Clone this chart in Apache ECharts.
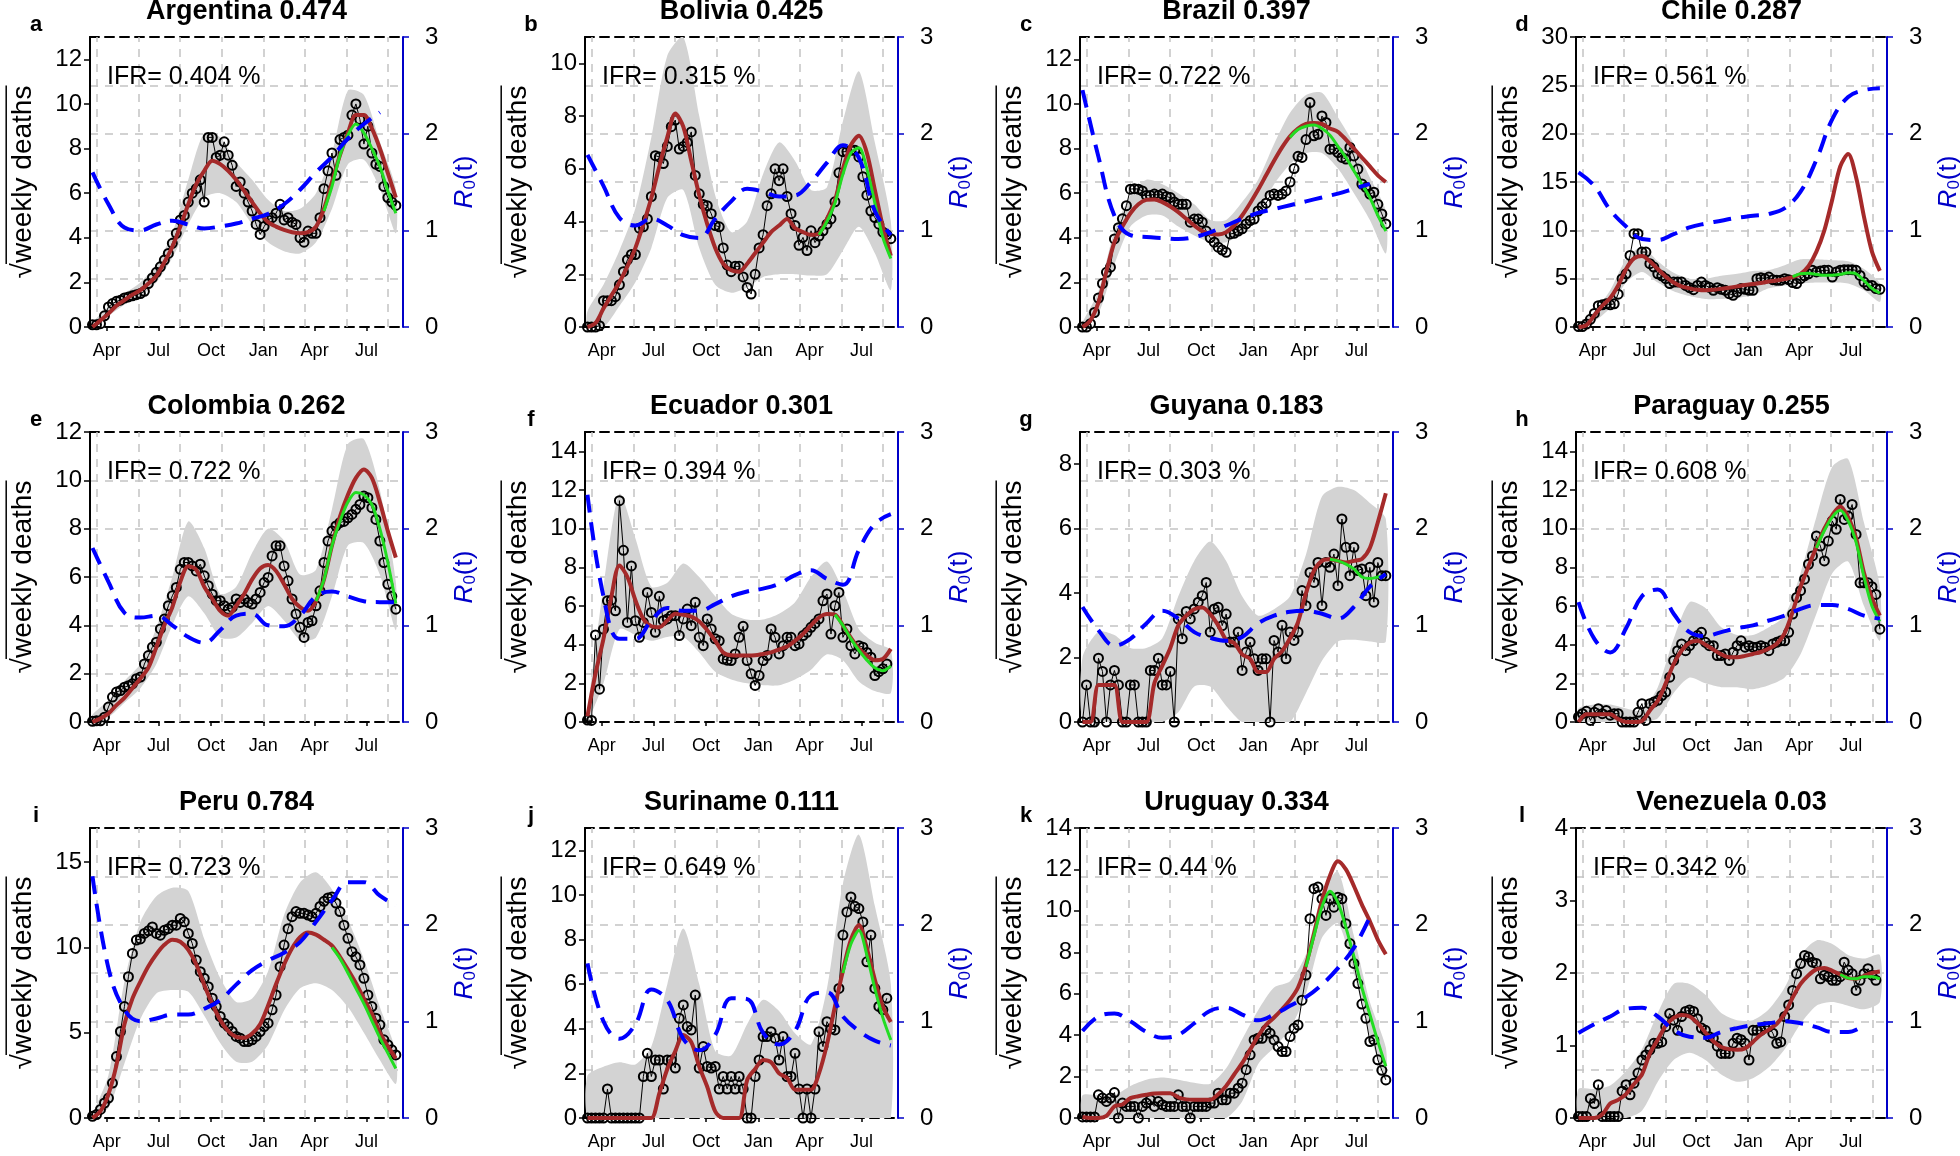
<!DOCTYPE html>
<html><head><meta charset="utf-8">
<script src="https://cdn.jsdelivr.net/npm/echarts@6/dist/echarts.min.js"></script>
<style>html,body{margin:0;padding:0;background:#fff}#c{width:1960px;height:1156px}</style>
</head><body><div id="c"></div>
<script>
// ---------- shared axis data ----------
const startYear = 2020.18;           // first weekly observation (decimal year)
const weekStep = 7 / 365.25;
const xMin = 2020.168, xMax = 2021.671;
const gridYears = [2020.2, 2020.4, 2020.6, 2020.8, 2021.0, 2021.2, 2021.4, 2021.6];
const monthTicks = [2020.2486, 2020.4973, 2020.7486, 2021.0, 2021.2466, 2021.4959];
const monthLabels = ['Apr', 'Jul', 'Oct', 'Jan', 'Apr', 'Jul'];

const panelTitles = ['Argentina 0.474','Bolivia 0.425','Brazil 0.397','Chile 0.287','Colombia 0.262','Ecuador 0.301','Guyana 0.183','Paraguay 0.255','Peru 0.784','Suriname 0.111','Uruguay 0.334','Venezuela 0.03'];
const panelLetters = ['a','b','c','d','e','f','g','h','i','j','k','l'];
const ifrTexts = ['IFR= 0.404 %','IFR= 0.315 %','IFR= 0.722 %','IFR= 0.561 %','IFR= 0.722 %','IFR= 0.394 %','IFR= 0.303 %','IFR= 0.608 %','IFR= 0.723 %','IFR= 0.649 %','IFR= 0.44 %','IFR= 0.342 %'];
const yMaxes = [13, 11, 13, 30, 12, 15, 9, 15, 17, 13, 14, 4];
const yIntervals = [2, 2, 2, 5, 2, 2, 2, 2, 5, 2, 2, 1];
const greenStarts = [58, 58, 52, 54, 56, 62, 62, 60, 60, 64, 56, 66];

// ---------- weekly sqrt deaths (observed, 77 weeks) ----------
const argObs = [0.1,0.1,0.15,0.5,0.9,1.05,1.15,1.2,1.3,1.35,1.4,1.45,1.5,1.6,1.95,2.2,2.45,2.7,3.0,3.3,3.75,4.2,4.8,5.0,5.6,6.0,6.2,6.6,5.6,8.5,8.5,7.6,7.7,8.3,7.7,7.25,6.3,6.5,6.0,5.6,5.2,4.6,4.15,4.5,4.8,4.9,5.1,5.5,4.8,4.9,4.7,4.6,4.0,3.8,4.3,4.2,4.2,4.9,6.2,7.0,7.8,6.8,8.4,8.5,8.6,9.5,10.0,9.3,8.2,9.0,7.8,7.3,7.2,6.3,5.8,5.6,5.45];
const bolObs = [0,0,0,0.05,1.0,1.0,1.0,1.15,1.6,2.1,2.55,2.75,2.75,3.75,3.8,4.1,4.95,6.5,6.45,6.2,6.85,7.6,7.85,6.75,6.85,7.0,7.4,5.75,5.05,4.65,4.6,4.3,3.85,3.8,3.0,2.35,2.1,2.3,2.3,1.9,1.5,1.25,2.0,3.0,3.5,4.6,5.05,6.0,5.55,6.0,4.95,4.3,3.85,3.1,3.4,2.9,3.65,3.2,3.45,3.65,3.9,4.1,4.75,5.85,6.65,6.65,6.7,6.7,6.45,5.7,5.0,4.4,4.15,3.9,3.6,3.5,3.35];
const braObs = [0,0,0.15,0.65,1.3,1.95,2.45,2.68,3.95,4.45,4.85,5.44,6.18,6.2,6.18,6.1,5.9,5.9,5.96,5.9,5.96,5.85,5.8,5.6,5.5,5.5,5.5,4.7,4.84,4.84,4.7,4.3,4.0,3.8,3.58,3.45,3.35,4.17,4.2,4.3,4.4,4.62,4.77,4.84,5.2,5.4,5.55,5.9,5.96,5.9,5.96,6.1,6.5,7.1,7.65,7.6,8.4,10.06,8.57,8.64,9.46,9.17,7.97,7.97,7.82,7.6,7.53,8.05,7.67,7.08,6.41,6.26,5.96,6.04,5.5,5.07,4.62];
const chiObs = [0.05,0.05,0.3,0.8,1.4,2.2,2.3,2.4,2.3,2.4,3.4,5.0,5.5,7.4,9.65,9.65,7.75,7.75,6.55,6.2,5.5,5.3,5.0,4.5,4.65,4.65,4.65,4.3,4.07,3.86,4.3,4.65,4.3,4.1,3.8,4.07,3.9,3.8,3.45,3.28,3.6,3.97,3.9,3.8,3.8,5.0,5.1,5.0,5.17,4.9,4.83,4.83,5.0,4.9,4.6,4.5,5.0,5.3,5.5,5.86,5.7,5.8,5.86,5.86,5.17,5.7,5.86,5.93,5.93,5.93,5.86,5.34,4.65,4.3,4.3,3.97,3.9];
const colObs = [0.03,0.05,0.05,0.2,0.62,1.03,1.24,1.3,1.44,1.5,1.58,1.79,1.86,2.4,2.75,3.1,3.3,3.85,4.26,4.81,5.22,5.57,6.32,6.6,6.6,6.46,6.25,6.53,6.05,5.64,5.29,5.02,5.02,4.81,4.67,4.74,5.09,4.95,5.09,4.95,4.88,5.09,5.36,5.77,5.98,6.87,7.29,7.29,6.46,5.84,5.09,4.47,3.92,3.5,4.12,4.19,4.81,5.43,6.6,7.49,7.9,8.11,8.25,8.3,8.45,8.59,8.8,9.0,9.35,9.28,8.87,8.38,7.49,6.6,5.7,5.2,4.67];
const ecuObs = [0.1,0.08,4.5,1.7,4.8,6.27,6.3,5.75,11.45,8.88,5.15,8.07,5.24,4.38,5.15,6.7,5.67,4.64,6.5,5.24,5.33,5.5,5.5,4.47,5.33,5.84,4.98,6.19,4.38,3.95,5.33,4.81,4.3,4.2,3.26,3.2,3.18,3.52,4.38,4.95,3.18,2.49,1.89,2.4,3.18,3.44,4.81,4.38,3.52,3.95,4.38,4.38,3.95,4.04,4.47,4.64,4.9,5.1,5.33,6.27,6.62,4.55,6.01,6.7,4.38,4.81,3.95,3.52,3.95,3.87,3.6,3.35,2.4,2.6,2.75,3.0,null];
const guyObs = [0,1.15,0,0,1.98,1.57,0,1.15,1.6,1.15,0,0,1.15,1.15,0,0,0,1.6,1.6,1.98,1.15,1.15,1.57,0,3.2,2.58,3.43,3.2,3.51,3.72,3.92,4.33,2.79,3.51,3.56,2.99,3.35,2.48,2.48,2.79,1.6,2.17,2.48,1.96,1.6,1.96,1.96,0,2.53,2.17,3.0,1.96,2.79,2.53,2.79,4.08,3.61,4.64,4.33,4.95,3.61,4.95,4.8,5.21,4.23,6.3,5.42,4.54,5.42,4.7,4.75,3.92,4.8,3.72,4.95,4.54,4.54];
const parObs = [0.26,0.43,0.55,0.08,0.5,0.69,0.43,0.6,0.35,0.43,0.43,0,0,0,0,0.5,0.95,0.08,0.95,1.03,1.12,1.37,1.55,2.32,3.18,3.69,4.04,3.69,3.95,4.2,4.47,4.64,4.12,3.95,3.95,3.44,3.44,3.52,3.18,3.61,3.95,4.2,3.87,3.95,3.87,3.87,3.95,3.87,3.69,4.04,4.12,4.2,4.2,4.64,5.58,6.44,6.79,7.39,8.16,8.59,9.62,9.1,8.33,9.36,10.4,9.97,11.51,10.48,10.65,11.25,9.7,7.2,7.2,7.2,7.0,6.6,4.8];
const perObs = [0.1,0.2,0.5,0.88,1.17,2.05,3.6,5.07,6.53,8.28,9.65,10.43,10.5,10.82,10.97,11.2,10.82,10.72,11.0,11.1,11.3,11.3,11.7,11.5,10.82,10.23,9.26,8.58,8.19,7.7,7.02,6.53,5.95,5.56,5.36,5.07,4.78,4.68,4.48,4.48,4.58,4.78,5.07,5.36,5.56,6.34,7.21,8.87,10.14,11.1,11.8,12.1,12.0,12.0,11.9,11.8,12.0,12.4,12.7,12.9,12.96,12.6,12.1,11.3,10.53,9.75,9.45,8.97,8.19,7.21,6.53,5.85,5.46,4.58,4.29,4.0,3.7];
const surObs = [0,0,0,0,0,1.3,0,0,0,0,0,0,0,0,1.86,2.9,1.86,2.6,2.6,1.3,2.6,2.6,2.24,4.47,5.07,4.1,3.95,5.51,2.24,3.2,2.31,2.24,2.31,1.3,1.86,1.3,1.86,1.3,1.86,1.3,0,0,1.86,2.6,3.65,3.65,3.87,3.58,2.6,3.65,1.86,1.86,2.9,1.3,0,1.3,0,1.3,3.87,3.2,4.32,4.0,3.95,5.81,8.2,9.24,9.91,9.49,9.39,8.79,7.0,8.2,5.81,5.0,4.85,5.37,null];
const uruObs = [0.05,0.05,0.05,0.05,1.12,0.96,0.8,0.96,1.23,0,0.72,0.56,0.56,0.56,0,0.56,0.72,0.88,0.56,0.8,0.64,0.56,0.56,0.56,1.12,0.56,0.56,0,0.56,0.56,0.56,0.56,0.72,0.72,1.2,0.88,0.88,1.2,1.2,1.44,1.68,2.33,3.05,3.77,3.85,3.85,4.25,4.09,3.77,3.45,3.21,3.21,3.93,4.33,4.49,5.69,6.9,9.62,11.07,11.15,10.58,9.78,10.58,10.18,10.66,10.58,9.38,8.42,7.46,6.49,5.5,4.81,3.69,3.77,2.81,2.3,1.84];
const venObs = [0.02,0.02,0.02,0.27,0.2,0.46,0.02,0.02,0.02,0.02,0.02,0.37,0.46,0.32,0.48,0.62,0.8,0.87,0.94,1.03,1.03,1.05,1.26,1.44,1.35,1.21,1.4,1.47,1.49,1.47,1.37,1.24,1.21,1.12,1.1,0.99,0.89,0.89,0.89,1.03,1.1,1.08,1.03,0.8,1.21,1.21,1.21,1.26,1.26,1.17,1.03,1.05,1.4,1.56,1.76,1.99,2.13,2.24,2.22,2.15,2.13,1.92,1.97,1.95,1.9,1.9,1.95,2.15,2.04,1.99,1.76,1.9,1.99,2.06,1.97,1.9,null];

// ---------- red fitted curve (every 2 weeks, weeks 0..76) ----------
const argRed = [0,0.3,0.6,0.95,1.2,1.45,1.65,1.95,2.3,2.9,3.6,4.5,5.5,6.4,7.0,7.45,7.3,7.0,6.6,6.1,5.6,5.1,4.7,4.5,4.35,4.25,4.2,4.25,4.5,5.3,6.5,7.7,8.7,9.5,9.5,8.9,8.0,6.9,5.8];
const bolRed = [0,0.15,0.7,1.2,1.7,2.3,3.0,3.9,4.9,6.1,7.2,8.1,7.6,6.3,5.0,3.9,3.0,2.4,2.15,2.1,2.4,2.8,3.2,3.6,3.85,4.1,3.75,3.6,3.5,3.55,4.1,4.8,6.0,6.9,7.25,6.6,5.2,3.8,2.7];
const braRed = [0,0.3,1.1,2.5,3.8,4.5,5.1,5.5,5.7,5.72,5.6,5.4,5.15,4.85,4.55,4.3,4.18,4.15,4.25,4.55,5.0,5.55,6.15,6.8,7.45,8.05,8.55,8.9,9.1,9.15,9.1,8.9,8.75,8.4,8.0,7.6,7.2,6.8,6.5];
const chiRed = [0,0.2,1.2,2.2,3.0,4.3,6.0,7.1,7.35,6.8,6.0,5.2,4.6,4.2,4.0,3.85,3.8,3.85,3.95,4.05,4.2,4.35,4.45,4.55,4.7,4.8,4.95,5.15,5.5,6.3,7.8,10.0,13.2,16.6,17.9,15.5,11.4,7.8,5.8];
const colRed = [0,0.15,0.35,0.7,1.0,1.4,1.8,2.25,3.1,4.0,4.75,5.8,6.45,6.3,5.6,5.1,4.6,4.4,4.8,5.3,5.9,6.35,6.5,6.25,5.7,5.1,4.75,4.6,5.0,5.9,7.3,8.5,9.4,10.1,10.45,10.1,9.1,7.9,6.8];
const ecuRed = [0.3,2.5,4.3,6.5,8.1,7.5,6.3,5.33,4.95,4.9,5.25,5.6,5.55,5.45,5.2,4.75,4.2,3.6,3.45,3.44,3.44,3.45,3.52,3.6,3.75,3.9,4.2,4.55,5.0,5.4,5.58,5.55,5.0,4.35,3.8,3.44,3.2,3.26,3.78];
const guyRed = [0,0,1.15,1.15,1.15,0,0,0,0,1.2,1.75,2.3,3.0,3.3,3.5,3.55,3.35,3.0,2.55,2.45,2.1,1.96,1.55,1.55,1.96,2.2,2.6,3.1,4.0,4.7,5.0,5.05,5.0,4.95,5.0,5.06,5.4,6.2,7.1];
const parRed = [0,0.4,0.4,0.4,0.4,0.15,0,0,0.05,0.6,1.1,2.0,3.0,3.7,4.1,4.2,4.0,3.75,3.5,3.35,3.35,3.42,3.52,3.62,3.8,4.05,4.6,5.7,7.0,8.05,9.05,10.0,10.7,11.15,10.6,9.5,7.7,6.4,5.5];
const perRed = [0,0.4,1.4,3.1,5.5,7.0,8.0,8.9,9.6,10.15,10.45,10.33,9.85,9.0,7.8,6.7,5.75,5.1,4.75,4.7,4.95,5.5,6.6,7.85,9.0,9.95,10.6,10.88,10.75,10.45,10.1,9.45,8.7,7.9,7.0,6.1,5.0,4.2,3.5];
const surRed = [0,0,0,0,0,0,0,0,0,1.1,2.2,3.0,3.72,3.4,2.3,1.4,0.3,0,0,0,1.7,2.2,2.6,2.5,2.0,1.8,1.27,1.27,1.27,2.0,3.3,5.0,6.6,8.0,8.65,7.6,6.2,5.0,4.3];
const uruRed = [0.05,0,0,0.1,0.56,0.65,0.96,1.05,1.12,1.18,1.2,1.2,1.0,0.9,0.88,0.88,0.88,1.15,1.55,2.1,2.65,3.3,3.95,4.5,4.85,5.25,5.7,6.3,7.4,8.9,10.5,11.7,12.4,12.0,11.2,10.3,9.5,8.6,7.9];
const venRed = [0,0,0,0.05,0.2,0.25,0.33,0.47,0.6,0.89,1.08,1.27,1.38,1.42,1.4,1.31,1.18,1.06,0.98,0.95,0.94,0.96,1.05,1.15,1.22,1.3,1.44,1.66,1.85,1.97,2.05,2.07,2.03,1.98,1.93,1.92,1.96,2.0,2.02];

// ---------- green curve (every 2 weeks from greenStarts[i]) ----------
const argGreen = [5.2,6.3,7.7,8.6,9.1,8.7,8.0,7.2,6.1,5.1];
const bolGreen = [3.5,4.0,4.7,5.8,6.6,6.8,6.0,4.7,3.4,2.6];
const braGreen = [8.5,8.85,9.0,9.05,8.9,8.6,8.1,7.6,7.0,6.4,5.8,5.0,4.3];
const chiGreen = [5.2,5.5,5.55,5.45,5.35,5.35,5.45,5.6,5.5,4.8,4.0,3.5];
const colGreen = [5.0,5.9,7.3,8.3,9.1,9.5,9.4,9.0,8.0,6.6,4.9];
const ecuGreen = [5.55,5.0,4.3,3.7,3.2,2.8,2.65,2.9];
const guyGreen = [5.05,5.0,4.9,4.75,4.5,4.45,4.5,4.55];
const parGreen = [9.0,9.9,10.6,10.95,10.4,9.3,7.5,6.0,5.2];
const perGreen = [10.0,9.35,8.5,7.6,6.7,5.7,4.7,3.8,2.9];
const surGreen = [6.5,7.8,8.4,7.3,5.8,4.5,3.5];
const uruGreen = [7.3,8.8,10.2,10.95,10.4,9.2,7.8,6.3,5.0,3.7,2.5];
const venGreen = [1.98,1.93,1.92,1.95,1.95,1.92];

// ---------- grey band, lower / upper (every 4 weeks, weeks 0..76) ----------
const argLo = [0,0.5,1.0,1.4,2.0,3.1,4.6,5.8,6.0,5.6,4.6,3.8,3.4,3.3,3.8,5.3,7.3,7.5,6.2,4.2];
const argHi = [0.2,0.9,1.5,2.0,2.8,4.2,6.6,8.7,8.5,7.4,6.6,5.7,5.2,5.3,6.0,7.8,10.6,10.4,8.3,6.2];
const bolLo = [0,0,0.8,1.7,3.0,4.9,5.2,3.0,1.6,1.3,1.5,1.9,2.0,2.0,1.95,2.0,2.9,3.8,2.8,1.4];
const bolHi = [0.6,1.6,2.9,4.5,7.2,10.3,11,8.0,5.0,3.6,4.0,5.8,7.0,6.3,5.2,5.3,7.8,9.7,7.0,4.0];
const braLo = [0,0.6,2.8,4.5,5.0,5.0,4.5,4.1,3.8,3.8,4.2,5.1,6.4,7.3,7.8,7.8,7.1,6.0,4.8,3.3];
const braHi = [0.2,1.6,4.3,5.9,6.6,6.4,6.0,5.5,4.8,4.8,5.6,6.6,8.2,9.6,10.4,10.5,9.4,8.2,6.7,5.2];
const chiLo = [0,0.6,2.0,4.6,5.7,4.6,3.7,3.2,2.9,2.9,3.0,3.3,4.0,4.3,4.5,4.6,4.6,4.5,3.8,2.6];
const chiHi = [0.2,1.6,3.8,7.0,8.3,6.8,5.6,5.0,5.0,5.3,5.5,5.8,5.9,6.4,7.0,7.0,6.9,6.8,6.0,4.5];
const colLo = [0,0.2,0.8,1.4,2.4,4.0,5.2,4.5,3.5,3.5,4.1,4.8,4.2,3.4,3.5,5.2,7.3,7.4,6.1,3.8];
const colHi = [0.3,0.9,1.7,2.4,3.9,6.0,8.3,7.2,5.3,5.6,7.0,8.0,7.5,6.1,6.3,8.8,11.5,11.7,9.6,5.8];
const ecuLo = [0,2.0,4.8,4.5,4.2,4.4,4.4,3.6,2.6,2.2,2.0,1.9,1.9,2.2,2.7,3.5,3.2,2.1,1.6,1.5];
const ecuHi = [0.5,7.0,11.8,9.5,7.0,7.2,8.2,7.5,6.5,5.6,5.3,5.3,5.6,6.2,7.5,8.3,6.8,4.8,4.1,3.7];
const guyLo = [0,0,0,0,0,0,0.3,1.1,1.1,0.5,0,0,0,0,0.9,1.9,2.5,2.55,2.5,2.5];
const guyHi = [2.0,2.8,2.7,2.3,2.3,2.6,3.9,5.0,5.6,5.0,3.9,3.3,3.5,3.9,5.2,7.0,7.3,7.2,6.8,6.3];
const parLo = [0,0,0,0,0,0.2,1.5,2.3,2.0,1.8,1.8,1.7,1.9,2.3,3.5,5.6,7.7,8.3,6.0,4.2];
const parHi = [0.7,0.9,0.9,0.7,0.6,1.8,4.3,6.2,5.9,4.9,4.5,4.5,4.9,5.5,7.7,10.6,13.2,13.6,10.3,7.0];
const perLo = [0,0.6,3.2,5.8,7.3,7.5,7.4,6.0,4.4,3.3,3.3,4.3,6.3,7.6,7.9,7.5,6.5,5.0,3.4,2.0];
const perHi = [0.2,2.5,8.0,11.5,13.0,13.5,13.3,10.5,8.2,6.8,7.0,8.6,11.9,13.8,14.4,13.4,11.6,9.3,6.5,3.9];
const surLo = [0,0,0,0,0,0,0,0,0,0,0,0,0,0,0,0,0,0,0,0];
const surHi = [1.9,2.3,2.5,2.4,3.2,6.0,8.5,6.0,3.0,2.8,4.2,5.3,4.8,3.8,3.3,5.8,10.5,12.7,9.5,6.0];
const uruLo = [0,0,0,0,0,0,0,0,0,0,0.8,2.6,3.4,4.3,6.0,8.7,9.4,7.0,4.0,1.9];
const uruHi = [1.1,1.1,1.1,1.55,1.85,1.95,1.85,1.7,1.65,2.4,3.8,5.2,6.3,6.6,7.9,10.8,11.9,8.8,5.6,3.4];
const venLo = [0,0,0,0,0.1,0.5,0.8,0.9,0.8,0.6,0.5,0.55,0.7,0.95,1.3,1.55,1.6,1.55,1.5,1.6];
const venHi = [0.4,0.4,0.45,0.65,0.95,1.45,1.85,1.85,1.7,1.45,1.35,1.35,1.5,1.8,2.25,2.45,2.4,2.25,2.2,2.25];

// ---------- R0(t) (every 4 weeks, weeks 0..76) ----------
const argR0 = [1.6,1.27,1.03,1.0,1.06,1.1,1.06,1.02,1.04,1.07,1.12,1.17,1.27,1.42,1.6,1.76,1.95,2.1,2.22,null];
const bolR0 = [1.78,1.46,1.13,1.05,1.12,1.05,0.95,0.92,1.12,1.3,1.43,1.4,1.35,1.36,1.5,1.7,1.88,1.75,1.2,0.95];
const braR0 = [2.45,1.76,1.15,0.95,0.93,0.92,0.91,0.93,0.98,1.05,1.12,1.18,1.22,1.26,1.3,1.34,1.38,1.43,1.48,null];
const chiR0 = [1.6,1.46,1.21,1.04,0.91,0.9,0.96,1.03,1.07,1.1,1.13,1.15,1.17,1.23,1.4,1.73,2.15,2.38,2.45,2.47];
const colR0 = [1.8,1.45,1.13,1.08,1.1,1.0,0.88,0.82,0.95,1.1,1.12,1.0,0.99,1.1,1.3,1.35,1.3,1.25,1.24,1.24];
const ecuR0 = [2.35,1.3,0.86,0.86,1.05,1.18,1.15,1.15,1.22,1.3,1.35,1.38,1.43,1.52,1.57,1.48,1.42,1.78,2.05,2.15];
const guyR0 = [1.19,0.95,0.79,0.86,1.02,1.15,1.07,0.93,0.87,0.84,0.88,1.02,1.1,1.14,1.15,1.12,1.07,1.19,1.4,1.53];
const parR0 = [1.24,0.86,0.72,0.97,1.3,1.37,1.12,0.93,0.89,0.93,0.97,1.0,1.05,1.1,1.17,1.21,1.21,1.17,1.1,1.07];
const perR0 = [2.5,1.55,1.12,1.0,1.03,1.07,1.07,1.13,1.22,1.38,1.53,1.63,1.71,1.82,2.03,2.25,2.44,2.44,2.3,2.2];
const surR0 = [1.6,1.0,0.82,0.97,1.33,1.22,0.82,0.7,0.86,1.24,1.23,0.88,0.76,0.9,1.27,1.3,1.05,0.9,0.8,0.75];
const uruR0 = [0.9,1.05,1.08,1.0,0.89,0.83,0.86,0.98,1.11,1.14,1.07,1.01,1.07,1.16,1.25,1.38,1.55,1.76,2.08,null];
const venR0 = [0.88,0.97,1.05,1.13,1.14,1.05,0.91,0.84,0.83,0.89,0.93,0.96,0.98,1.0,0.98,0.94,0.89,0.89,0.96,null];

// ---------- assembly ----------
const obsList = [argObs,bolObs,braObs,chiObs,colObs,ecuObs,guyObs,parObs,perObs,surObs,uruObs,venObs];
const redList = [argRed,bolRed,braRed,chiRed,colRed,ecuRed,guyRed,parRed,perRed,surRed,uruRed,venRed];
const greenList = [argGreen,bolGreen,braGreen,chiGreen,colGreen,ecuGreen,guyGreen,parGreen,perGreen,surGreen,uruGreen,venGreen];
const loList = [argLo,bolLo,braLo,chiLo,colLo,ecuLo,guyLo,parLo,perLo,surLo,uruLo,venLo];
const hiList = [argHi,bolHi,braHi,chiHi,colHi,ecuHi,guyHi,parHi,perHi,surHi,uruHi,venHi];
const r0List = [argR0,bolR0,braR0,chiR0,colR0,ecuR0,guyR0,parR0,perR0,surR0,uruR0,venR0];

const weekYear = i => startYear + i * weekStep;

const colLeft = [90, 585, 1080, 1576];
const colWidth = [313, 313, 313, 311];
const rowTop = [37, 432, 828];
const plotH = 290;

const FONT = '"Liberation Sans", Arial, Helvetica, sans-serif';
const GRIDGREY = '#c4c4c4';
const AXISBLUE = '#0000c8';

const measure = (() => {
  const ctx = document.createElement('canvas').getContext('2d');
  return (txt, size) => { ctx.font = size + 'px ' + FONT; return ctx.measureText(txt).width; };
})();

const grids = [], xAxes = [], yAxes = [], series = [], graphics = [];

for (let p = 0; p < 12; p++) {
  const r = Math.floor(p / 4), c = p % 4;
  const left = colLeft[c], top = rowTop[r], width = colWidth[c];
  grids.push({ left, top, width, height: plotH, containLabel: false, outerBoundsMode: 'none' });

  // bottom time axis
  xAxes.push({
    type: 'value', gridIndex: p, min: xMin, max: xMax, position: 'bottom',
    axisLine: { onZero: false, lineStyle: { color: '#000', width: 2, type: [9, 6] } },
    axisTick: { show: true, length: 4, customValues: monthTicks, lineStyle: { color: '#000', width: 1.5 } },
    axisLabel: {
      customValues: monthTicks, margin: 15, fontSize: 18, color: '#000', fontFamily: FONT,
      formatter: v => { const k = monthTicks.findIndex(t => Math.abs(t - v) < 1e-3); return k >= 0 ? monthLabels[k] : ''; }
    },
    splitLine: { show: false }
  });
  // top dashed border
  xAxes.push({
    type: 'value', gridIndex: p, min: 0, max: 1, position: 'top',
    axisLine: { onZero: false, lineStyle: { color: '#000', width: 2, type: [9, 6] } },
    axisTick: { show: false }, axisLabel: { show: false }, splitLine: { show: false }
  });
  const xi = 2 * p;

  const ymax = yMaxes[p], yint = yIntervals[p];
  yAxes.push({
    type: 'value', gridIndex: p, min: 0, max: ymax, interval: yint, position: 'left',
    axisLine: { show: true, onZero: false, lineStyle: { color: '#000', width: 2 } },
    axisTick: { show: true, length: 6, lineStyle: { color: '#000', width: 1.5 } },
    axisLabel: { fontSize: 24, color: '#000', margin: 8, fontFamily: FONT, showMaxLabel: ymax % yint === 0 },
    splitLine: { show: false }
  });
  yAxes.push({
    type: 'value', gridIndex: p, min: 0, max: 3, interval: 1, position: 'right',
    axisLine: { show: true, onZero: false, lineStyle: { color: AXISBLUE, width: 2 } },
    axisTick: { show: true, length: 6, lineStyle: { color: AXISBLUE, width: 1.5 } },
    axisLabel: { fontSize: 24, color: '#000', margin: 22, fontFamily: FONT },
    splitLine: { show: true, lineStyle: { color: GRIDGREY, width: 1.5, type: [8, 7] } },
    minorTick: { show: false, splitNumber: 2 },
    minorSplitLine: { show: true, lineStyle: { color: GRIDGREY, width: 1.5, type: [8, 7] } }
  });
  const yl = 2 * p, yr = 2 * p + 1;

  // vertical dashed grid lines
  series.push({
    type: 'line', xAxisIndex: xi, yAxisIndex: yl, data: [], z: 1, silent: true,
    markLine: {
      silent: true, z: 1, symbol: ['none', 'none'], label: { show: false }, animation: false,
      lineStyle: { color: GRIDGREY, width: 1.5, type: [8, 7] },
      data: gridYears.map(v => ({ xAxis: v }))
    }
  });

  // grey uncertainty band
  const lo = loList[p], hi = hiList[p];
  const bandData = lo.map((v, i) => [weekYear(4 * i), v, hi[i]]);
  series.push({
    type: 'custom', xAxisIndex: xi, yAxisIndex: yl, z: 2, silent: true, clip: true,
    data: bandData, encode: { x: 0, y: [1, 2] },
    renderItem: (params, api) => {
      if (params.dataIndex !== 0) return null;
      const pts = [];
      for (let i = 0; i < bandData.length; i++) pts.push(api.coord([bandData[i][0], bandData[i][2]]));
      for (let i = bandData.length - 1; i >= 0; i--) pts.push(api.coord([bandData[i][0], bandData[i][1]]));
      return { type: 'polygon', shape: { points: pts, smooth: 0.25 }, style: { fill: '#d3d3d3' } };
    }
  });

  // observed weekly values
  series.push({
    type: 'line', xAxisIndex: xi, yAxisIndex: yl, z: 3, silent: true,
    data: obsList[p].map((v, i) => [weekYear(i), v]),
    symbol: 'circle', symbolSize: 9, showSymbol: true, showAllSymbol: true,
    lineStyle: { color: '#000', width: 1 },
    itemStyle: { color: 'rgba(255,255,255,0)', borderColor: '#000', borderWidth: 2 }
  });

  // red fit
  series.push({
    type: 'line', xAxisIndex: xi, yAxisIndex: yl, z: 4, silent: true, smooth: 0.3,
    data: redList[p].map((v, i) => [weekYear(2 * i), v]), symbol: 'none',
    lineStyle: { color: '#a52a2a', width: 4 }
  });

  // green fit
  series.push({
    type: 'line', xAxisIndex: xi, yAxisIndex: yl, z: 5, silent: true, smooth: 0.3,
    data: greenList[p].map((v, i) => [weekYear(greenStarts[p] + 2 * i), v]), symbol: 'none',
    lineStyle: { color: '#22dd22', width: 3 }
  });

  // R0(t)
  series.push({
    type: 'line', xAxisIndex: xi, yAxisIndex: yr, z: 6, silent: true, smooth: 0.4,
    data: r0List[p].map((v, i) => [weekYear(4 * i), v]), symbol: 'none', connectNulls: false,
    lineStyle: { color: '#0000ff', width: 4, type: [18, 10] }
  });

  // ---- texts ----
  const cx = left + width / 2, cy = top + plotH / 2;
  graphics.push({ type: 'text', x: cx, y: top - 25, z: 100, silent: true,
    style: { text: panelTitles[p], fontSize: 27, fontWeight: 'bold', fontFamily: FONT, fill: '#000', align: 'center', verticalAlign: 'middle' } });
  graphics.push({ type: 'text', x: left - 54, y: top - 12, z: 100, silent: true,
    style: { text: panelLetters[p], fontSize: 22, fontWeight: 'bold', fontFamily: FONT, fill: '#000', align: 'center', verticalAlign: 'middle' } });
  graphics.push({ type: 'text', x: left + 17, y: top + 40, z: 100, silent: true,
    style: { text: ifrTexts[p], fontSize: 25, fontFamily: FONT, fill: '#000', align: 'left', verticalAlign: 'middle' } });

  // sqrt(weekly deaths) label
  const nfs = 28, nameTxt = '\u221Aweekly deaths';
  const W = measure(nameTxt, nfs), w0 = measure('\u221A', nfs);
  const nx = left - 67;
  graphics.push({ type: 'text', x: nx, y: cy, rotation: Math.PI / 2, z: 100, silent: true,
    style: { text: nameTxt, fontSize: nfs, fontFamily: FONT, fill: '#000', align: 'center', verticalAlign: 'middle' } });
  graphics.push({ type: 'line', z: 100, silent: true,
    shape: { x1: nx - nfs * 0.6, y1: cy - W / 2, x2: nx - nfs * 0.6, y2: cy + W / 2 - w0 + 1 },
    style: { stroke: '#000', lineWidth: 1.5 } });

  // R0(t) label
  graphics.push({ type: 'text', x: left + width + 62, y: cy, rotation: Math.PI / 2, z: 100, silent: true,
    style: { text: '{r|R}{s|0}{t|(t)}', fill: AXISBLUE, align: 'center', verticalAlign: 'middle',
      rich: {
        r: { fontSize: 26, fontStyle: 'italic', fontFamily: FONT, fill: AXISBLUE, verticalAlign: 'middle' },
        s: { fontSize: 17, fontFamily: FONT, fill: AXISBLUE, verticalAlign: 'bottom', padding: [11, 0, 0, 0] },
        t: { fontSize: 26, fontFamily: FONT, fill: AXISBLUE, verticalAlign: 'middle' }
      } } });
}

const chart = echarts.init(document.getElementById('c'), null, { renderer: 'canvas', width: 1960, height: 1156 });
chart.setOption({
  backgroundColor: '#fff',
  animation: false,
  grid: grids, xAxis: xAxes, yAxis: yAxes, series: series,
  graphic: { elements: graphics }
});
</script>
</body></html>
